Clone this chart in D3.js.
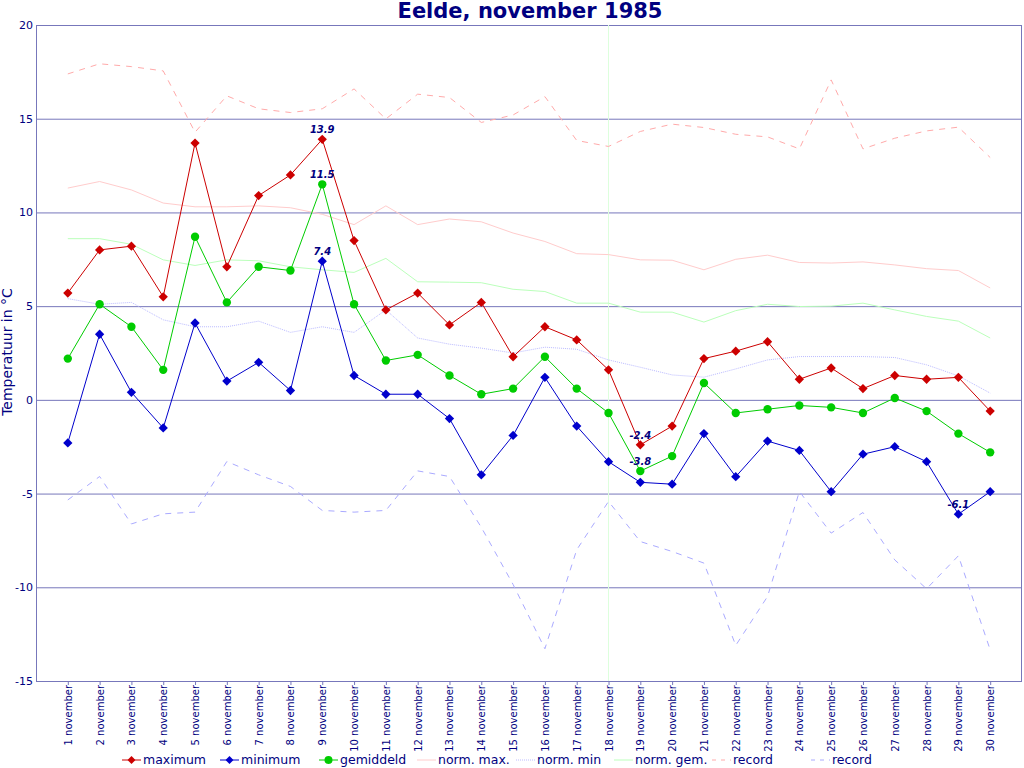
<!DOCTYPE html>
<html>
<head>
<meta charset="utf-8">
<script src="https://cdn.jsdelivr.net/npm/d3@7"></script>
<style>
    body { margin: 0; background: #fff; }
    text { font-family: "DejaVu Sans", sans-serif; fill: #000080; }
</style>
</head>
<body>
<svg width="1024" height="768"></svg>
<script>
// data
var days = d3.range(1, 31);
var dayLabels = days.map(d => d + ' november');
var yTicks = [-15, -10, -5, 0, 5, 10, 15, 20];

var maximum = [5.7, 8.0, 8.2, 5.5, 13.7, 7.1, 10.9, 12.0, 13.9, 8.5, 4.8, 5.7, 4.0, 5.2, 2.3,
    3.9, 3.2, 1.6, -2.4, -1.4, 2.2, 2.6, 3.1, 1.1, 1.7, 0.6, 1.3, 1.1, 1.2, -0.6];
var minimum = [-2.3, 3.5, 0.4, -1.5, 4.1, 1.0, 2.0, 0.5, 7.4, 1.3, 0.3, 0.3, -1.0, -4.0, -1.9,
    1.2, -1.4, -3.3, -4.4, -4.5, -1.8, -4.1, -2.2, -2.7, -4.9, -2.9, -2.5, -3.3, -6.1, -4.9];
var gemiddeld = [2.2, 5.1, 3.9, 1.6, 8.7, 5.2, 7.1, 6.9, 11.5, 5.1, 2.1, 2.4, 1.3, 0.3, 0.6,
    2.3, 0.6, -0.7, -3.8, -3.0, 0.9, -0.7, -0.5, -0.3, -0.4, -0.7, 0.1, -0.6, -1.8, -2.8];
var normMax = [11.3, 11.65, 11.2, 10.5, 10.3, 10.3, 10.35, 10.25, 9.9, 9.35, 10.35, 9.35, 9.65, 9.5, 8.9,
    8.45, 7.8, 7.75, 7.47, 7.45, 6.94, 7.5, 7.72, 7.33, 7.3, 7.36, 7.2, 7.0, 6.9, 5.97];
var normMin = [5.4, 5.1, 5.2, 4.27, 3.9, 3.9, 4.2, 3.6, 3.9, 3.6, 4.8, 3.3, 2.97, 2.76, 2.5,
    2.81, 2.7, 2.13, 1.74, 1.33, 1.21, 1.65, 2.13, 2.31, 2.31, 2.31, 2.26, 1.87, 1.28, 0.36];
var normGem = [8.6, 8.6, 8.3, 7.47, 7.17, 7.47, 7.42, 7.1, 6.94, 6.8, 7.55, 6.3, 6.28, 6.25, 5.9,
    5.78, 5.16, 5.16, 4.68, 4.68, 4.15, 4.76, 5.1, 4.98, 5.0, 5.16, 4.8, 4.45, 4.2, 3.3];
var recordMax = [17.39, 17.93, 17.78, 17.55, 14.28, 16.22, 15.53, 15.33, 15.53, 16.59, 14.99, 16.31, 16.13, 14.8, 15.2,
    16.18, 13.84, 13.52, 14.32, 14.71, 14.53, 14.17, 14.03, 13.39, 17.07, 13.39, 13.96, 14.35, 14.55, 12.93];
var recordMin = [-5.34, -4.09, -6.62, -6.08, -5.99, -3.29, -4.0, -4.62, -5.9, -5.99, -5.9, -3.79, -4.09, -6.8, -9.85,
    -13.28, -8.0, -5.42, -7.56, -8.09, -8.71, -13.1, -10.49, -4.89, -7.11, -6.01, -8.54, -10.08, -8.32, -13.34];

// extremes that get a value label
var labelled = [
    { series: 'maximum', day: 9 }, { series: 'gemiddeld', day: 9 }, { series: 'minimum', day: 9 },
    { series: 'maximum', day: 19 }, { series: 'gemiddeld', day: 19 }, { series: 'minimum', day: 29 }
];
var markDay = 18; // thin vertical marker line

var width = 1024;
var height = 768;
var margin = { top: 25, bottom: 87, left: 36, right: 2 };
var gridColor = '#7777bb';

var svg = d3.select('svg');

// scales
var xScale = d3.scaleLinear()
    .domain([0, 31])
    .range([margin.left, width - margin.right]);

var yScale = d3.scaleLinear()
    .domain([-15, 20])
    .range([height - margin.bottom, margin.top]);

// title
svg.append('text')
    .attr('x', 530)
    .attr('y', 18)
    .attr('text-anchor', 'middle')
    .style('font-size', '21px')
    .style('font-weight', 'bold')
    .text('Eelde, november 1985');

// horizontal grid + y axis labels
var yAxis = d3.axisLeft(yScale)
    .tickValues(yTicks)
    .tickFormat(d => String(d)) // plain hyphen minus like the original
    .tickSize(-(width - margin.left - margin.right))
    .tickPadding(4);

var gy = svg.append('g')
    .attr('transform', 'translate(' + [margin.left, 0] + ')')
    .call(yAxis);
gy.select('.domain').remove();
gy.selectAll('line').attr('stroke', gridColor);
gy.selectAll('text')
    .attr('x', -3)
    .style('font-size', '11px')
    .style('font-family', '"DejaVu Sans", sans-serif')
    .attr('fill', '#000080');

// frame
svg.append('rect')
    .attr('x', margin.left + 0.5)
    .attr('y', margin.top + 0.5)
    .attr('width', width - margin.left - margin.right - 1)
    .attr('height', height - margin.top - margin.bottom)
    .attr('fill', 'none')
    .attr('stroke', gridColor);

// x axis with rotated day labels
var xAxis = d3.axisBottom(xScale)
    .tickValues(days)
    .tickSize(4)
    .tickFormat((d, i) => dayLabels[i]);

var gx = svg.append('g')
    .attr('transform', 'translate(' + [0, height - margin.bottom] + ')')
    .call(xAxis);
gx.select('.domain').remove();
gx.selectAll('line').attr('stroke', gridColor);
gx.selectAll('text')
    .attr('transform', 'rotate(-90)')
    .attr('x', -4)
    .attr('y', 0)
    .attr('dy', '0.35em')
    .attr('text-anchor', 'end')
    .style('font-size', '10px')
    .style('font-family', '"DejaVu Sans", sans-serif')
    .attr('fill', '#000080');

// y axis title
svg.append('text')
    .attr('transform', 'translate(12,352) rotate(-90)')
    .attr('text-anchor', 'middle')
    .style('font-size', '14px')
    .text('Temperatuur in °C');

// vertical marker line
svg.append('line')
    .attr('x1', xScale(markDay)).attr('x2', xScale(markDay))
    .attr('y1', margin.top).attr('y2', height - margin.bottom)
    .attr('stroke', '#ddffdd');

var line = d3.line()
    .x((d, i) => xScale(days[i]))
    .y(d => yScale(d));

var series = [
    { name: 'norm. max.', values: normMax, color: '#ffcccc', dash: null },
    { name: 'norm. min', values: normMin, color: '#bbbbff', dash: '1,1' },
    { name: 'norm. gem.', values: normGem, color: '#bbffbb', dash: null },
    { name: 'record', values: recordMax, color: '#ffaaaa', dash: '6,6' },
    { name: 'record', values: recordMin, color: '#aaaaff', dash: '6,6' },
    { name: 'maximum', values: maximum, color: '#cc0000', marker: 'diamond' },
    { name: 'minimum', values: minimum, color: '#0000cc', marker: 'diamond' },
    { name: 'gemiddeld', values: gemiddeld, color: '#00cc00', marker: 'circle' }
];

// symbolDiamond2 is already a square standing on its point
var symbolFor = (s, size) => d3.symbol()
    .type(s.marker === 'diamond' ? d3.symbolDiamond2 : d3.symbolCircle)
    .size(size);

series.forEach(s => {
    svg.append('path')
        .datum(s.values)
        .attr('d', line)
        .attr('fill', 'none')
        .attr('stroke', s.color)
        .attr('stroke-width', 1)
        .attr('stroke-dasharray', s.dash);

    if (s.marker) {
        svg.append('g').selectAll('path')
            .data(s.values)
            .enter().append('path')
            .attr('d', symbolFor(s, s.marker === 'diamond' ? 55 : 55))
            .attr('transform', (d, i) => 'translate(' + [xScale(days[i]), yScale(d)] + ')')
            .attr('fill', s.color);
    }
});

// value labels
var lookup = { maximum: maximum, minimum: minimum, gemiddeld: gemiddeld };
svg.append('g').selectAll('text')
    .data(labelled)
    .enter().append('text')
    .attr('x', d => xScale(d.day))
    .attr('y', d => yScale(lookup[d.series][d.day - 1]) - 6)
    .attr('text-anchor', 'middle')
    .style('font-size', '10px')
    .style('font-weight', 'bold')
    .style('font-style', 'italic')
    .text(d => lookup[d.series][d.day - 1].toFixed(1));

// legend
var legendX = [122, 220, 319, 417, 516, 614, 712, 811];
var legendOrder = [5, 6, 7, 0, 1, 2, 3, 4];
var legendY = 760;

var legend = svg.append('g').selectAll('g')
    .data(legendOrder.map(i => series[i]))
    .enter().append('g')
    .attr('transform', (d, i) => 'translate(' + [legendX[i], legendY] + ')');

legend.append('line')
    .attr('x1', 0).attr('x2', 19)
    .attr('stroke', d => d.color)
    .attr('stroke-dasharray', d => d.dash === '6,6' ? '4,5' : d.dash);

legend.filter(d => d.marker)
    .append('path')
    .attr('d', d => symbolFor(d, d.marker === 'diamond' ? 40 : 50)())
    .attr('transform', 'translate(9.5,0)')
    .attr('fill', d => d.color);

legend.append('text')
    .attr('x', 21)
    .attr('dy', '0.35em')
    .style('font-size', '12.5px')
    .text(d => d.name);
</script>
</body>
</html>
